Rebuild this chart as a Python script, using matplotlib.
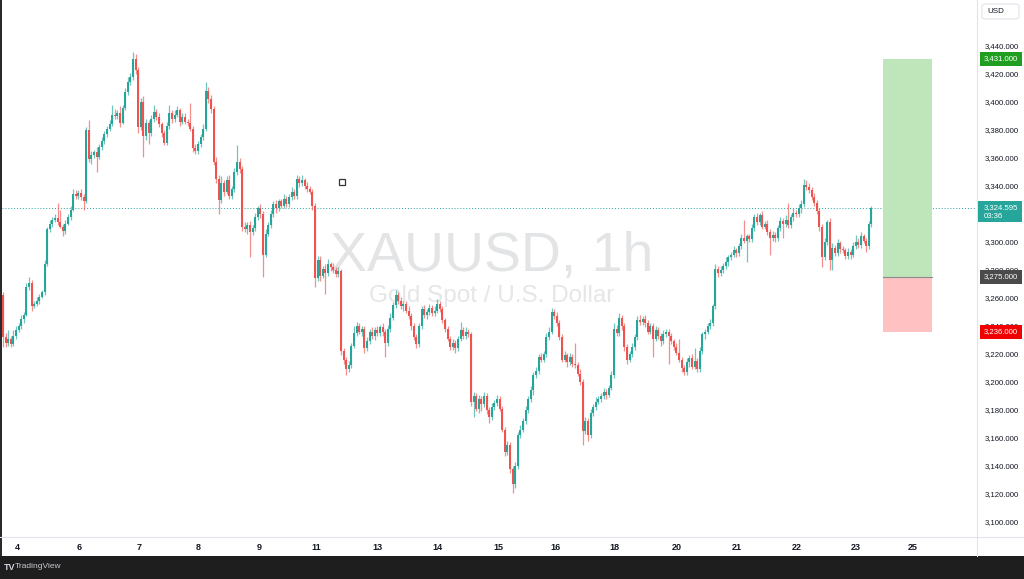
import matplotlib
matplotlib.use("Agg")
import matplotlib.pyplot as plt
import matplotlib.transforms as mtransforms
from matplotlib.patches import Rectangle, FancyBboxPatch
import numpy as np
import logging
logging.getLogger('matplotlib.font_manager').setLevel(logging.ERROR)

# ---------------- data ----------------
first_open = 3262
closes = [
    3232, 3228, 3231, 3227, 3233, 3237, 3240, 3245, 3248, 3268,
    3271, 3254, 3256, 3258, 3261, 3264, 3284, 3309, 3313, 3316,
    3317, 3314, 3311, 3308, 3313, 3318, 3323, 3334, 3333, 3335,
    3332, 3329, 3380, 3359, 3362, 3364, 3361, 3368, 3372, 3377,
    3381, 3384, 3391, 3390, 3392, 3385, 3396, 3407, 3414, 3418,
    3431, 3423, 3382, 3400, 3376, 3385, 3378, 3388, 3393, 3389,
    3384, 3378, 3371, 3383, 3392, 3388, 3391, 3394, 3386, 3389,
    3386, 3385, 3381, 3367, 3365, 3370, 3375, 3381, 3408, 3402,
    3395, 3357, 3345, 3330, 3342, 3336, 3344, 3333, 3338, 3350,
    3357, 3352, 3311, 3309, 3312, 3307, 3310, 3318, 3324, 3320,
    3291, 3306, 3312, 3320, 3327, 3324, 3329, 3326, 3331, 3327,
    3332, 3336, 3333, 3345, 3342, 3344, 3340, 3338, 3336, 3326,
    3274, 3287, 3276, 3281, 3278, 3284, 3282, 3280, 3277, 3279,
    3222, 3216, 3209, 3212, 3226, 3235, 3240, 3236, 3238, 3224,
    3229, 3236, 3233, 3237, 3235, 3239, 3236, 3228, 3238, 3246,
    3255, 3262, 3258, 3254, 3256, 3251, 3247, 3240, 3232, 3227,
    3240, 3252, 3248, 3250, 3253, 3249, 3251, 3256, 3252, 3244,
    3238, 3231, 3225, 3228, 3224, 3231, 3237, 3233, 3236, 3234,
    3186, 3190, 3181, 3188, 3184, 3190, 3180, 3175, 3182, 3185,
    3188, 3181, 3166, 3150, 3155, 3138, 3127, 3140, 3162, 3166,
    3172, 3180, 3188, 3194, 3205, 3208, 3218, 3216, 3220, 3232,
    3236, 3250, 3247, 3242, 3232, 3216, 3219, 3214, 3218, 3213,
    3212, 3206, 3200, 3165, 3172, 3162, 3178, 3182, 3186, 3188,
    3190, 3193, 3191, 3196, 3205, 3238, 3235, 3246, 3240, 3225,
    3216, 3220, 3225, 3232, 3244, 3243, 3245, 3242, 3236, 3240,
    3231, 3237, 3233, 3229, 3234, 3236, 3233, 3229, 3225, 3221,
    3216, 3210, 3207, 3214, 3217, 3211, 3215, 3209, 3222, 3234,
    3236, 3240, 3242, 3254, 3281, 3278, 3280, 3283, 3286, 3289,
    3291, 3294, 3292, 3297, 3303, 3301, 3304, 3302, 3310, 3318,
    3314, 3319, 3311, 3313, 3307, 3303, 3305, 3303, 3310, 3315,
    3313, 3316, 3312, 3318, 3321, 3320, 3324, 3327, 3341, 3339,
    3337, 3332, 3328, 3322, 3311, 3289, 3300, 3314, 3287, 3296,
    3292, 3299, 3295, 3294, 3290, 3293, 3291, 3297, 3300, 3298,
    3304, 3301, 3297, 3313, 3324.595,
]
upper_wick = [
    2, 3, 6, 2, 4, 3, 2, 3, 2, 3,
    4, 2, 2, 3, 2, 2, 3, 2, 3, 2,
    3, 11, 9, 2, 3, 2, 3, 4, 3, 2,
    3, 2, 2, 7, 3, 2, 4, 2, 3, 2,
    2, 3, 7, 4, 2, 5, 2, 3, 4, 3,
    5, 3, 2, 3, 4, 3, 2, 3, 5, 2,
    3, 2, 2, 3, 6, 2, 3, 3, 2, 3,
    3, 2, 14, 2, 3, 2, 2, 3, 6, 3,
    3, 2, 4, 3, 5, 2, 3, 4, 2, 3,
    12, 3, 2, 3, 2, 3, 2, 3, 2, 3,
    2, 3, 2, 3, 2, 3, 2, 2, 3, 2,
    2, 3, 2, 3, 2, 4, 2, 3, 2, 2,
    2, 3, 3, 2, 3, 4, 2, 3, 2, 3,
    2, 2, 2, 3, 2, 5, 3, 2, 2, 2,
    3, 2, 3, 2, 3, 2, 3, 2, 3, 3,
    2, 4, 2, 3, 2, 2, 3, 2, 2, 2,
    2, 2, 3, 2, 3, 2, 3, 3, 2, 2,
    2, 2, 2, 3, 2, 2, 6, 2, 3, 2,
    2, 3, 2, 3, 2, 3, 2, 2, 3, 2,
    3, 2, 2, 2, 3, 2, 2, 3, 2, 3,
    2, 3, 2, 3, 2, 3, 2, 3, 2, 3,
    3, 3, 2, 3, 2, 2, 3, 2, 3, 2,
    15, 2, 3, 2, 3, 2, 3, 2, 3, 2,
    2, 3, 2, 2, 3, 4, 3, 3, 2, 2,
    2, 2, 3, 2, 3, 4, 2, 3, 2, 2,
    2, 3, 2, 2, 3, 2, 2, 2, 2, 3,
    10, 2, 2, 3, 2, 3, 9, 2, 3, 2,
    2, 2, 3, 2, 3, 2, 3, 2, 3, 2,
    2, 3, 2, 2, 3, 13, 2, 2, 3, 2,
    3, 2, 3, 2, 3, 2, 3, 2, 2, 3,
    2, 3, 12, 2, 3, 2, 3, 3, 4, 3,
    3, 2, 3, 2, 2, 2, 3, 2, 3, 3,
    2, 3, 2, 2, 2, 3, 2, 3, 5, 3,
    3, 2, 2, 2, 1,
]
lower_wick = [
    7, 3, 2, 2, 1, 2, 1, 2, 3, 1,
    2, 3, 1, 2, 2, 1, 2, 1, 2, 2,
    2, 2, 1, 4, 2, 1, 2, 1, 2, 2,
    2, 6, 1, 2, 3, 2, 11, 2, 2, 2,
    2, 2, 1, 2, 2, 3, 1, 2, 2, 2,
    2, 3, 4, 2, 15, 3, 8, 2, 2, 2,
    2, 3, 2, 2, 2, 3, 2, 2, 3, 2,
    2, 2, 2, 3, 2, 2, 2, 2, 2, 3,
    3, 2, 3, 10, 2, 3, 2, 2, 2, 2,
    2, 3, 3, 2, 3, 18, 2, 2, 2, 3,
    16, 2, 2, 2, 2, 3, 2, 2, 2, 2,
    2, 2, 2, 2, 3, 2, 2, 2, 2, 3,
    6, 2, 4, 2, 15, 2, 3, 2, 2, 2,
    3, 3, 4, 2, 2, 2, 2, 2, 3, 3,
    2, 2, 2, 3, 2, 2, 3, 10, 2, 2,
    2, 2, 2, 2, 3, 2, 2, 3, 2, 3,
    2, 2, 2, 3, 2, 2, 2, 2, 2, 2,
    2, 2, 2, 2, 3, 2, 2, 2, 2, 2,
    3, 11, 2, 3, 5, 2, 3, 4, 2, 2,
    2, 2, 2, 3, 2, 3, 6, 3, 2, 2,
    2, 2, 2, 2, 3, 2, 2, 2, 2, 2,
    2, 2, 2, 2, 2, 2, 2, 3, 2, 2,
    2, 2, 2, 10, 2, 4, 2, 2, 2, 2,
    2, 2, 3, 2, 2, 2, 2, 2, 3, 3,
    3, 2, 2, 2, 2, 2, 2, 3, 2, 2,
    13, 2, 2, 3, 2, 2, 20, 2, 2, 2,
    2, 3, 2, 2, 3, 2, 2, 2, 2, 2,
    3, 2, 2, 2, 2, 3, 2, 2, 2, 3,
    2, 2, 3, 2, 2, 2, 15, 2, 2, 2,
    2, 2, 2, 2, 2, 12, 2, 3, 2, 2,
    10, 2, 2, 2, 3, 2, 2, 3, 2, 2,
    2, 2, 2, 2, 3, 7, 2, 2, 7, 7,
    2, 2, 3, 2, 2, 2, 3, 2, 2, 2,
    2, 2, 4, 2, 2,
]
day_labels = ["4", "6", "7", "8", "9", "11", "13", "14", "15", "16",
              "18", "20", "21", "22", "23", "25"]
day_tick_idx = [5.4, 29.2, 52.3, 75.0, 98.5, 120.4, 144.2, 167.3, 190.4,
                212.7, 235.0, 259.2, 282.3, 305.4, 328.0, 350.0]
price_ticks = list(range(3100, 3441, 20))
entry_price = 3275.0
target_price = 3431.0
stop_price = 3236.0
position_start_idx = 338.5
position_end_idx = 357.3
countdown = "03:36"
marker_idx = 130.4
marker_price = 3343.0

# ---------------- derived ----------------
closes = np.array(closes, dtype=float)
n = len(closes)
assert len(upper_wick) == n and len(lower_wick) == n, (n, len(upper_wick), len(lower_wick))
opens = np.concatenate([[first_open], closes[:-1]])
highs = np.maximum(opens, closes) + np.array(upper_wick)
lows = np.minimum(opens, closes) - np.array(lower_wick)
idx = np.arange(n)

UP = "#26a69a"
DOWN = "#ef5350"
sans = ["Liberation Sans", "DejaVu Sans"]
LBL = 5.6  # price-scale font size

W, H = 1024, 579
fig = plt.figure(figsize=(W / 100, H / 100), dpi=100)
fig.patch.set_facecolor("white")

ax_l, ax_r, ax_top, ax_bot = 2, 976, 0, 537
ax = fig.add_axes([ax_l / W, (H - ax_bot) / H, (ax_r - ax_l) / W, (ax_bot - ax_top) / H])
ax.set_facecolor("white")

# y scale: 3440 at y=46px, 1.4 px per dollar
ppd = 1.4
ymax = 3440 + (46 - ax_top) / ppd
ymin = 3440 - (ax_bot - 46) / ppd
ax.set_ylim(ymin, ymax)
# x scale: candle i at x = 3 + 2.6 i
ax.set_xlim((ax_l - 3) / 2.6, (ax_r - 3) / 2.6)

# watermark
ax.text(0.503, 0.522, "XAUUSD, 1h", transform=ax.transAxes, ha="center", va="center",
        fontsize=40, color="#e3e4e6", family=sans, zorder=0)
ax.text(0.503, 0.448, "Gold Spot / U.S. Dollar", transform=ax.transAxes, ha="center", va="center",
        fontsize=17.5, color="#e5e6e8", family=sans, zorder=0)

# candles
colors = np.where(closes >= opens, UP, DOWN)
ax.vlines(idx, lows, highs, colors=colors, linewidth=0.9, alpha=0.65, zorder=2)
body_bottom = np.minimum(opens, closes)
body_h = np.maximum(np.abs(closes - opens), 0.8)
ax.bar(idx, body_h, bottom=body_bottom, width=0.8, color=colors, linewidth=0, zorder=3)

# current price line
ax.axhline(closes[-1], color=UP, linestyle=(0, (1, 2)), linewidth=0.7, zorder=1)

# position tool
ax.add_patch(Rectangle((position_start_idx, entry_price), position_end_idx - position_start_idx,
                       target_price - entry_price, facecolor="#bfe6bb", edgecolor="none", zorder=1))
ax.add_patch(Rectangle((position_start_idx, stop_price), position_end_idx - position_start_idx,
                       entry_price - stop_price, facecolor="#ffc1c1", edgecolor="none", zorder=1))
ax.plot([position_start_idx, position_end_idx], [entry_price, entry_price], color="#8a8a8a",
        linewidth=0.8, zorder=2)

# small drawing marker
ax.plot([marker_idx], [marker_price], marker="s", markersize=4, markerfacecolor="white",
        markeredgecolor="#333333", markeredgewidth=0.9, zorder=4)

# axes styling
for s in ax.spines.values():
    s.set_visible(False)
ax.set_xticks(day_tick_idx)
ax.set_xticklabels(day_labels, fontsize=6.5, fontweight="bold", color="#131722", family=sans)
ax.tick_params(axis="x", length=0, pad=4)
ax.yaxis.tick_right()
ax.set_yticks(price_ticks)
ax.set_yticklabels([f"{p:,.3f}" for p in price_ticks], fontsize=LBL, color="#131722", family=sans)
ax.tick_params(axis="y", length=0, pad=6.5)

# frame lines
fig.add_artist(plt.Line2D([0, 1], [(H - ax_bot) / H] * 2, transform=fig.transFigure,
                          color="#e0e3eb", linewidth=0.8))
fig.add_artist(plt.Line2D([977 / W] * 2, [(H - 556) / H, 1], transform=fig.transFigure,
                          color="#e0e3eb", linewidth=0.8))
fig.add_artist(Rectangle((0, (H - 556) / H), 2 / W, 556 / H, transform=fig.transFigure,
                         facecolor="#2a2a2a", edgecolor="none"))
# bottom dark bar
fig.add_artist(Rectangle((0, 0), 1, 23 / H, transform=fig.transFigure,
                         facecolor="#1e1e1e", edgecolor="none"))
fig.text(4 / W, 1 - 567 / H, "TV", fontsize=6.5, fontweight="bold", color="#d1d4dc",
         va="center", ha="left", family=sans)
fig.text(15 / W, 1 - 567 / H, "TradingView", fontsize=6, color="#c8cad0",
         va="center", ha="left", family=sans)

# price labels on the axis
tr = mtransforms.blended_transform_factory(fig.transFigure, ax.transData)


def axis_label(price, text, bg, fg="white"):
    fig.text(1001 / W, price, text, transform=tr, ha="center", va="center", fontsize=LBL,
             color=fg, family=sans, zorder=5,
             bbox=dict(boxstyle="square,pad=0.45", facecolor=bg, edgecolor="none"))


axis_label(target_price, f"{target_price:,.3f}", "#1f9e1f")
axis_label(entry_price, f"{entry_price:,.3f}", "#4a4a4a")
axis_label(stop_price, f"{stop_price:,.3f}", "#f00000")

# current price box (two lines)
cp = closes[-1]
box_top_px, box_bot_px = 201, 222
fig.add_artist(Rectangle((978 / W, 1 - box_bot_px / H), 44 / W, (box_bot_px - box_top_px) / H,
                         transform=fig.transFigure, facecolor=UP, edgecolor="none", zorder=5))
fig.text(984 / W, 1 - 207.5 / H, f"{cp:,.3f}", ha="left", va="center", fontsize=LBL,
         color="white", family=sans, zorder=6)
fig.text(984 / W, 1 - 216.5 / H, countdown, ha="left", va="center", fontsize=LBL,
         color="white", family=sans, zorder=6)

# USD box
fig.add_artist(FancyBboxPatch((982 / W, 1 - 19 / H), 37 / W, 15 / H, transform=fig.transFigure,
                              boxstyle="round,pad=0,rounding_size=0.004", facecolor="white",
                              edgecolor="#e0e3eb", linewidth=0.8))
fig.text(987 / W, 1 - 11.5 / H, "USD", ha="left", va="center", fontsize=5.8, color="#131722",
         family=sans)

fig.savefig("out.png", dpi=100, facecolor="white")
